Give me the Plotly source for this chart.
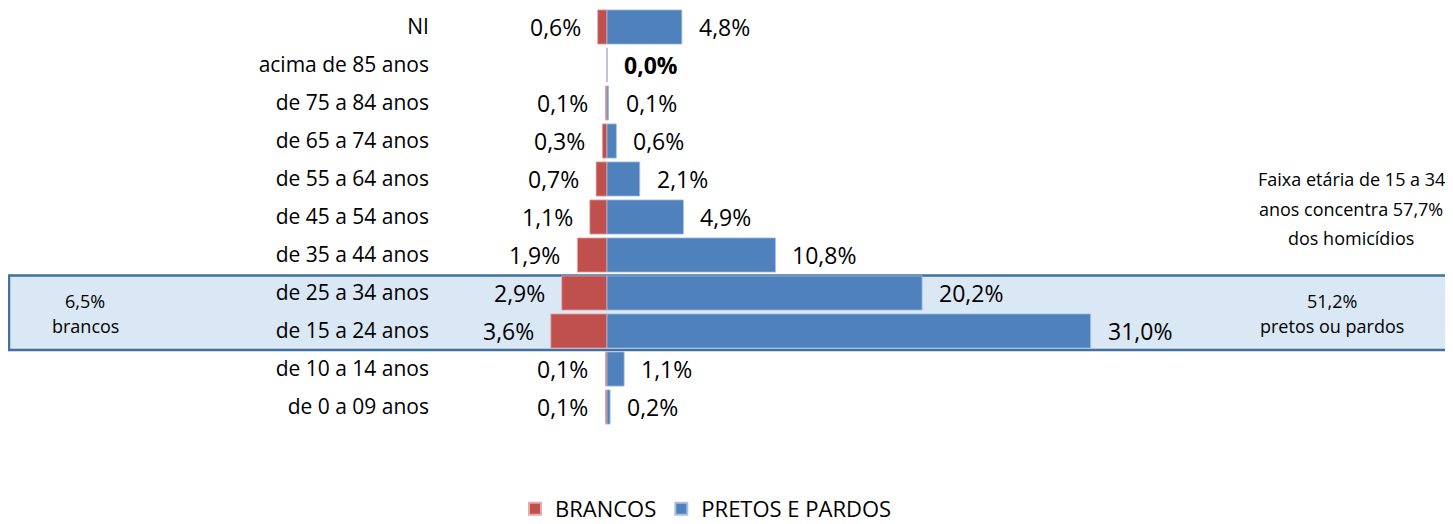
import plotly.graph_objects as go

categories = ["NI", "acima de 85 anos", "de 75 a 84 anos", "de 65 a 74 anos",
              "de 55 a 64 anos", "de 45 a 54 anos", "de 35 a 44 anos",
              "de 25 a 34 anos", "de 15 a 24 anos", "de 10 a 14 anos",
              "de 0 a 09 anos"]
brancos = [0.6, 0.0, 0.1, 0.3, 0.7, 1.1, 1.9, 2.9, 3.6, 0.1, 0.1]
pretos_pardos = [4.8, 0.0, 0.1, 0.6, 2.1, 4.9, 10.8, 20.2, 31.0, 1.1, 0.2]
brancos_show_label = [True, False, True, True, True, True, True, True, True, True, True]

RED = "#C0504D"
BLUE = "#4F81BD"
FONT = "Open Sans"


def fmt(v):
    return f"{v:.1f}".replace(".", ",") + "%"


# page body has an 8px margin: figure is sized/positioned to compensate
OFF = 8
W, H = 1453 - OFF, 524 - OFF
L_PAGE = 440            # left edge of plot area on page
TOP_PAGE, BOT_PAGE = 8, 426
L = L_PAGE - OFF
TOP = TOP_PAGE - OFF
BOT = 524 - BOT_PAGE
PW = W - L
PH = BOT_PAGE - TOP_PAGE


def px_x(x):
    return (x - L_PAGE) / PW


def px_y(y):
    return (BOT_PAGE - y) / PH


fig = go.Figure()
fig.add_trace(go.Bar(
    y=categories, x=[-v for v in brancos], orientation="h", name="BRANCOS",
    marker=dict(color=RED, line=dict(color="#E8A9A7", width=0.8)),
    hoverinfo="skip"))
fig.add_trace(go.Bar(
    y=categories, x=pretos_pardos, orientation="h", name="PRETOS E PARDOS",
    marker=dict(color=BLUE, line=dict(color="#A9C1E0", width=0.8)),
    hoverinfo="skip"))

annotations = []
for cat, v, show in zip(categories, brancos, brancos_show_label):
    if show:
        annotations.append(dict(x=-v, y=cat, xref="x", yref="y", text=fmt(v),
                                showarrow=False, xanchor="right", xshift=-15,
                                font=dict(family=FONT, size=23, color="#000")))
for cat, v in zip(categories, pretos_pardos):
    txt = fmt(v) if v > 0 else "<b>" + fmt(v) + "</b>"
    annotations.append(dict(x=v, y=cat, xref="x", yref="y", text=txt,
                            showarrow=False, xanchor="left", xshift=15,
                            font=dict(family=FONT, size=23, color="#000")))

side_notes = [
    ("6,5%", 85, 301), ("brancos", 85, 326),
    ("51,2%", 1332, 301), ("pretos ou pardos", 1332, 326),
    ("Faixa etária de 15 a 34", 1351, 179),
    ("anos concentra 57,7%", 1351, 209),
    ("dos homicídios", 1351, 238),
]
for t, xx, yy in side_notes:
    annotations.append(dict(x=px_x(xx), y=px_y(yy), xref="paper", yref="paper",
                            text=t, showarrow=False, xanchor="center",
                            yanchor="middle",
                            font=dict(family=FONT, size=18, color="#000")))

fig.update_layout(
    width=W, height=H,
    margin=dict(l=L, r=0, t=TOP, b=BOT, pad=0, autoexpand=False),
    barmode="relative", bargap=0.1,
    paper_bgcolor="white", plot_bgcolor="rgba(0,0,0,0)",
    font=dict(family=FONT, size=21, color="#000"),
    xaxis=dict(range=[-167 / 15.6, (1453 - 607) / 15.6], visible=False,
               showgrid=False, zeroline=False),
    yaxis=dict(categoryorder="array", categoryarray=categories,
               autorange="reversed", showgrid=False, zeroline=False,
               showline=False, ticks="", ticklabelstandoff=10,
               tickfont=dict(family=FONT, size=21, color="#000")),
    showlegend=True,
    legend=dict(orientation="h", xref="container", yref="container",
                x=(706 - OFF) / W, xanchor="center",
                y=(524 - 509) / H, yanchor="middle",
                font=dict(family=FONT, size=22, color="#000"),
                itemsizing="constant", traceorder="normal"),
    shapes=[dict(type="rect", xref="paper", yref="y",
                 x0=px_x(9), x1=1.02, y0=6.54, y1=8.5,
                 fillcolor="#DAE7F4", line=dict(color="#41719C", width=2.5),
                 layer="below")],
    annotations=annotations,
)

fig.write_html("out.html")
